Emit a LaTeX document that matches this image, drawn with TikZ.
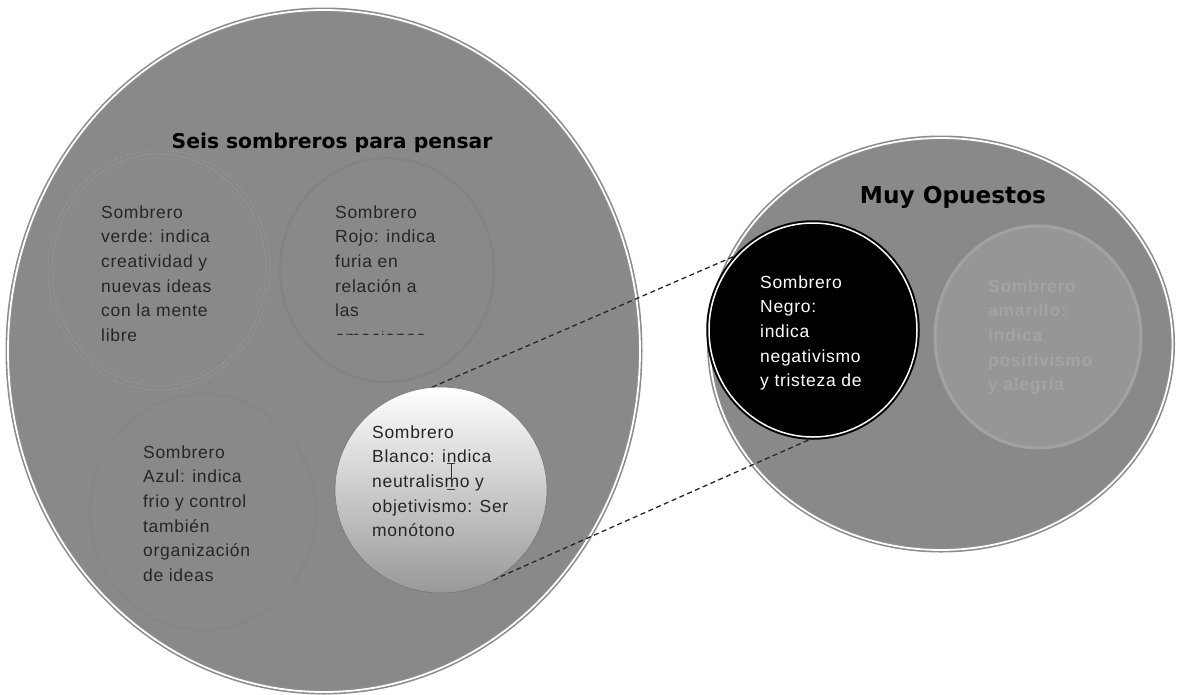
\documentclass[tikz,border=0pt]{standalone}
\usepackage{fontspec}
\setmainfont{Liberation Sans}[LetterSpace=4]
\newfontfamily\titlefont{DejaVu Sans}
\usetikzlibrary{shapes.geometric}
\definecolor{bggray}{RGB}{137,137,137}
\definecolor{rimgray}{RGB}{140,140,140}
\definecolor{inkgray}{RGB}{38,38,38}
\definecolor{dotgray}{RGB}{172,172,172}
\definecolor{redring}{RGB}{131,131,131}
\definecolor{bluering}{RGB}{134,134,134}
\definecolor{yelfill}{RGB}{150,150,150}
\definecolor{yelring}{RGB}{162,162,162}
\definecolor{yeltext}{RGB}{163,163,163}
\definecolor{whitebottom}{RGB}{152,152,152}
\definecolor{whiteedge}{RGB}{118,118,118}
\tikzset{
  disk/.style={ellipse, inner sep=0pt},
  bigdisk/.style={disk, fill=bggray, draw=rimgray, double=white,
    double distance=1.8pt, line width=1.6pt},
  hattext/.style={anchor=north west, inner sep=0pt, align=left,
    font=\fontsize{17.5}{24.7}\selectfont, text=inkgray},
  titletext/.style={inner sep=0pt, font=\titlefont\bfseries, text=black},
  link/.style={draw=black!85, line width=1.3pt, dash pattern=on 5pt off 3.5pt}
}
\begin{document}
\begin{tikzpicture}[x=1pt,y=-1pt]
\useasboundingbox (0,0) rectangle (1178,694);

% the two large groups
\node[bigdisk, minimum width=632pt, minimum height=682pt] (seis) at (324,351) {};
\node[bigdisk, minimum width=463pt, minimum height=412pt] (opuestos) at (941,344) {};

% group titles
\node[titletext, font=\titlefont\bfseries\fontsize{20.3}{24}\selectfont] (t1) at (332,143) {Seis sombreros para pensar};
\node[titletext, font=\titlefont\bfseries\fontsize{23.2}{27}\selectfont] (t2) at (953,197) {Muy Opuestos};

% green hat: faint dotted rings
\node[disk, minimum width=222pt, minimum height=240pt, draw=dotgray, line width=0.6pt, dotted] (verde) at (159,270) {};
\node[disk, minimum width=214pt, minimum height=232pt, draw=dotgray, line width=0.5pt, densely dotted] (verde2) at (159,270) {};
\node[disk, minimum width=206pt, minimum height=224pt, draw=dotgray!80!bggray, line width=0.5pt, loosely dotted] (verde3) at (159,270) {};
\node[hattext] (tverde) at (101,205.3) {Sombrero\\verde: indica\\creatividad y\\nuevas ideas\\con la mente\\libre};

% red hat: faint darker ring
\node[disk, minimum width=214pt, minimum height=224pt, draw=redring, line width=2.5pt] (rojo) at (387,270) {};
\node[hattext] (trojo) at (335,205.3) {Sombrero\\Rojo: indica\\furia en\\relación a\\las};
\begin{scope}
  \clip (333,331.8) rectangle (470,334);
  \node[anchor=base west, inner sep=0pt, font=\fontsize{17.5}{24.7}\selectfont, text=inkgray] (trojo2) at (335,343.2) {emociones};
\end{scope}

% blue hat: faint ring
\node[disk, minimum width=226pt, minimum height=236pt, draw=bluering, line width=3pt] (azul) at (203,512) {};
\node[hattext] (tazul) at (143,445.3) {Sombrero\\Azul: indica\\frio y control\\también\\organización\\de ideas};

% connectors to the black hat
\node[disk, minimum width=212pt, minimum height=206pt] (blanco) at (441,490) {};
\node[disk, minimum width=208pt, minimum height=214pt] (negro) at (813,330) {};
\draw[link] (blanco.95) -- (negro.134);
\draw[link] (blanco.-60) -- (negro.-89);

% white hat: shaded disc
\node[disk, minimum width=212pt, minimum height=206pt, draw=whiteedge, line width=0.6pt,
  top color=white, middle color=white!92!black, bottom color=whitebottom] (blancodisk) at (441,490) {};
\node[hattext] (tblanco) at (372,425.3) {Sombrero\\Blanco: indica\\neutralismo y\\objetivismo: Ser\\monótono};
% text cursor
\draw[black!80, line width=0.8pt] (447,463) -- (455,463) (451,463) -- (451,487) (447,489) -- (455,489);

% black hat
\node[disk, minimum width=208pt, minimum height=214pt, fill=black, draw=black, double=white,
  double distance=1.5pt, line width=2pt] (negrodisk) at (813,330) {};
\node[hattext, text=white] (tnegro) at (760,275.3) {Sombrero\\Negro:\\indica\\negativismo\\y tristeza de};

% yellow hat
\node[disk, minimum width=206pt, minimum height=222pt, fill=yelfill, draw=yelring, line width=3pt] (amarillo) at (1038,337) {};
\node[hattext, text=yeltext, font=\bfseries\fontsize{17.5}{24.7}\selectfont] (tamarillo) at (988,279.3) {Sombrero\\amarillo:\\indica\\positivismo\\y alegría};
\end{tikzpicture}
\end{document}
